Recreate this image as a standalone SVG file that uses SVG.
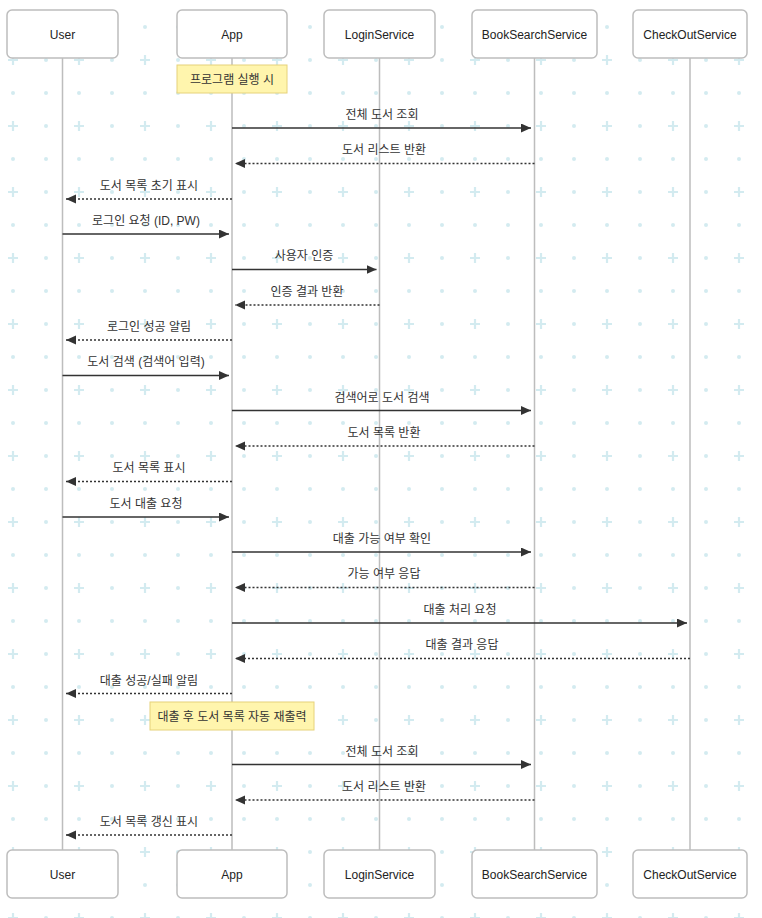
<svg xmlns="http://www.w3.org/2000/svg" width="762" height="918" viewBox="0 0 762 918">
<defs>
<pattern id="bg" patternUnits="userSpaceOnUse" x="-4" y="10" width="66" height="66">
<circle cx="17" cy="17" r="2" fill="#d3ebf0"/>
<circle cx="50" cy="17" r="2" fill="#d3ebf0"/>
<circle cx="50" cy="50" r="2" fill="#d3ebf0"/>
<path d="M12,50 H22 M17,45 V55" stroke="#d3ebf0" stroke-width="2.2"/>
</pattern>
<marker id="ah" markerUnits="userSpaceOnUse" markerWidth="12" markerHeight="10" refX="10" refY="4.5" orient="auto">
<path d="M0,0 L10,4.5 L0,9 z" fill="#333" stroke="none"/>
</marker>
</defs>
<style>
.box{fill:#fff;stroke:#bdbdbd;stroke-width:1.5}
.lbl{font-family:"Liberation Sans","Noto Sans CJK KR",Arial,sans-serif;font-size:12px;fill:#222;text-anchor:middle}
.life{stroke:#bdbdbd;stroke-width:1.5}
.note{fill:#fff5ad;stroke:#e6d27a;stroke-width:1}
.msg{stroke:#333;stroke-width:1.5;fill:none;marker-end:url(#ah)}
.ret{stroke:#333;stroke-width:1.5;fill:none;stroke-dasharray:2,2;marker-end:url(#ah)}
.ml{font-family:"Liberation Sans","Noto Sans CJK KR",Arial,sans-serif;font-size:12px;fill:#333;text-anchor:middle}
</style>
<rect width="762" height="918" fill="#fff"/>
<rect width="762" height="918" fill="url(#bg)"/>
<g id="lifelines">
<line class="life" x1="62.5" y1="58" x2="62.5" y2="850"/>
<line class="life" x1="232" y1="58" x2="232" y2="850"/>
<line class="life" x1="379.5" y1="58" x2="379.5" y2="850"/>
<line class="life" x1="534.5" y1="58" x2="534.5" y2="850"/>
<line class="life" x1="690" y1="58" x2="690" y2="850"/>
</g>
<g id="User">
<rect class="box" x="7" y="10" width="111" height="48" rx="5"/>
<text class="lbl" x="62.5" y="38.5">User</text>
<rect class="box" x="7" y="850" width="111" height="48" rx="5"/>
<text class="lbl" x="62.5" y="878.5">User</text>
</g>
<g id="App">
<rect class="box" x="177" y="10" width="110" height="48" rx="5"/>
<text class="lbl" x="232" y="38.5">App</text>
<rect class="box" x="177" y="850" width="110" height="48" rx="5"/>
<text class="lbl" x="232" y="878.5">App</text>
</g>
<g id="LoginService">
<rect class="box" x="324" y="10" width="111" height="48" rx="5"/>
<text class="lbl" x="379.5" y="38.5">LoginService</text>
<rect class="box" x="324" y="850" width="111" height="48" rx="5"/>
<text class="lbl" x="379.5" y="878.5">LoginService</text>
</g>
<g id="BookSearchService">
<rect class="box" x="472" y="10" width="125" height="48" rx="5"/>
<text class="lbl" x="534.5" y="38.5">BookSearchService</text>
<rect class="box" x="472" y="850" width="125" height="48" rx="5"/>
<text class="lbl" x="534.5" y="878.5">BookSearchService</text>
</g>
<g id="CheckOutService">
<rect class="box" x="633" y="10" width="114" height="48" rx="5"/>
<text class="lbl" x="690" y="38.5">CheckOutService</text>
<rect class="box" x="633" y="850" width="114" height="48" rx="5"/>
<text class="lbl" x="690" y="878.5">CheckOutService</text>
</g>
<g id="note1">
<rect class="note" x="177" y="65" width="110" height="28"/>
<text class="ml" x="232" y="83.5">프로그램 실행 시</text>
</g>
<g id="note2">
<rect class="note" x="150" y="702" width="164" height="28"/>
<text class="ml" x="232" y="720.5">대출 후 도서 목록 자동 재출력</text>
</g>
<g id="connectors">
<line class="msg" x1="232" y1="128" x2="531" y2="128"/>
<text class="ml" x="382" y="118.5">전체 도서 조회</text>
<line class="ret" x1="534.5" y1="163.5" x2="235" y2="163.5"/>
<text class="ml" x="384" y="153.5">도서 리스트 반환</text>
<line class="ret" x1="232" y1="199" x2="66" y2="199"/>
<text class="ml" x="149" y="189.5">도서 목록 초기 표시</text>
<line class="msg" x1="62.5" y1="234" x2="229" y2="234"/>
<text class="ml" x="146" y="224.5">로그인 요청 (ID, PW)</text>
<line class="msg" x1="232" y1="269.5" x2="376.5" y2="269.5"/>
<text class="ml" x="304" y="259.5">사용자 인증</text>
<line class="ret" x1="379.5" y1="305" x2="235" y2="305"/>
<text class="ml" x="307" y="295.5">인증 결과 반환</text>
<line class="ret" x1="232" y1="340" x2="66" y2="340"/>
<text class="ml" x="149" y="330.5">로그인 성공 알림</text>
<line class="msg" x1="62.5" y1="375.5" x2="229" y2="375.5"/>
<text class="ml" x="146" y="365.5">도서 검색 (검색어 입력)</text>
<line class="msg" x1="232" y1="410.5" x2="531" y2="410.5"/>
<text class="ml" x="382" y="401.5">검색어로 도서 검색</text>
<line class="ret" x1="534.5" y1="446" x2="235" y2="446"/>
<text class="ml" x="384" y="436.5">도서 목록 반환</text>
<line class="ret" x1="232" y1="481.5" x2="66" y2="481.5"/>
<text class="ml" x="149" y="471.5">도서 목록 표시</text>
<line class="msg" x1="62.5" y1="517" x2="229" y2="517"/>
<text class="ml" x="146" y="507.5">도서 대출 요청</text>
<line class="msg" x1="232" y1="552" x2="531" y2="552"/>
<text class="ml" x="382" y="542.5">대출 가능 여부 확인</text>
<line class="ret" x1="534.5" y1="587.5" x2="235" y2="587.5"/>
<text class="ml" x="384" y="577.5">가능 여부 응답</text>
<line class="msg" x1="232" y1="623" x2="687" y2="623"/>
<text class="ml" x="460" y="613.5">대출 처리 요청</text>
<line class="ret" x1="690" y1="658.5" x2="235" y2="658.5"/>
<text class="ml" x="462" y="648.5">대출 결과 응답</text>
<line class="ret" x1="232" y1="693.5" x2="66" y2="693.5"/>
<text class="ml" x="149" y="684.5">대출 성공/실패 알림</text>
<line class="msg" x1="232" y1="764.5" x2="531" y2="764.5"/>
<text class="ml" x="382" y="755.5">전체 도서 조회</text>
<line class="ret" x1="534.5" y1="800" x2="235" y2="800"/>
<text class="ml" x="384" y="790.5">도서 리스트 반환</text>
<line class="ret" x1="232" y1="835" x2="66" y2="835"/>
<text class="ml" x="149" y="825.5">도서 목록 갱신 표시</text>
</g>
</svg>
